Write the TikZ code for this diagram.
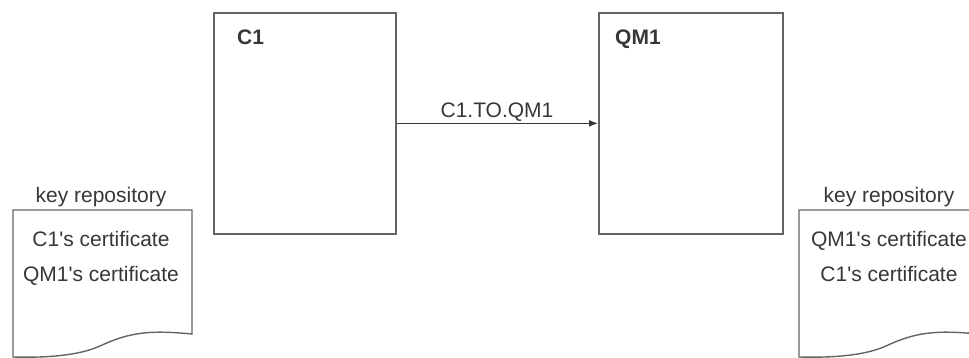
\documentclass[tikz,border=0pt]{standalone}
\usepackage{fontspec}
\setmainfont{Liberation Sans}
\usetikzlibrary{arrows.meta}
\definecolor{linegray}{RGB}{100,100,100}
\definecolor{textgray}{RGB}{55,55,55}
\begin{document}
\begin{tikzpicture}[x=1pt,y=-1pt,
  qbox/.style={draw=linegray, line width=1.7pt, minimum width=182pt, minimum height=221pt, anchor=north west, inner sep=0pt},
  txt/.style={text=textgray, font=\fontsize{21}{25}\selectfont, inner sep=0pt},
  btxt/.style={text=textgray, font=\fontsize{21}{25}\selectfont\bfseries, inner sep=0pt, anchor=base west},
  docline/.style={draw=linegray, line width=1.4pt, fill=white},
  conn/.style={draw=textgray, line width=1.3pt, -{Latex[length=9pt,width=7pt]}}]
\useasboundingbox (0,0) rectangle (969,358);
\clip (0,0) rectangle (969,358);
% queue manager boxes
\node[qbox] (c1) at (213,12) {};
\node[qbox, minimum width=184pt] (qm1) at (598,12) {};
\node[btxt] (c1t) at (237,44.3) {C1};
\node[btxt] (qm1t) at (615,44.3) {QM1};
% channel
\draw[conn] (c1.east) -- (qm1.west);
\node[txt, anchor=base] (chl) at (497,117.3) {C1.TO.QM1};
% left key repository
\draw[docline] (13,210) -- (192,210) -- (192,334)
  .. controls (150,330) and (130,332) .. (100,346)
  .. controls (80,355) and (50,358) .. (13,357) -- cycle;
\node[txt, anchor=base] (krl) at (101,202.7) {key repository};
\node[txt, anchor=base] (krl1) at (101,246) {C1\textquotesingle s certificate};
\node[txt, anchor=base] (krl2) at (101,281) {QM1\textquotesingle s certificate};
% right key repository
\begin{scope}[xshift=786pt]
\draw[docline] (13,210) -- (192,210) -- (192,334)
  .. controls (150,330) and (130,332) .. (100,346)
  .. controls (80,355) and (50,358) .. (13,357) -- cycle;
\end{scope}
\node[txt, anchor=base] (krr) at (889,202.7) {key repository};
\node[txt, anchor=base] (krr1) at (889,246) {QM1\textquotesingle s certificate};
\node[txt, anchor=base] (krr2) at (889,281) {C1\textquotesingle s certificate};
\end{tikzpicture}
\end{document}
